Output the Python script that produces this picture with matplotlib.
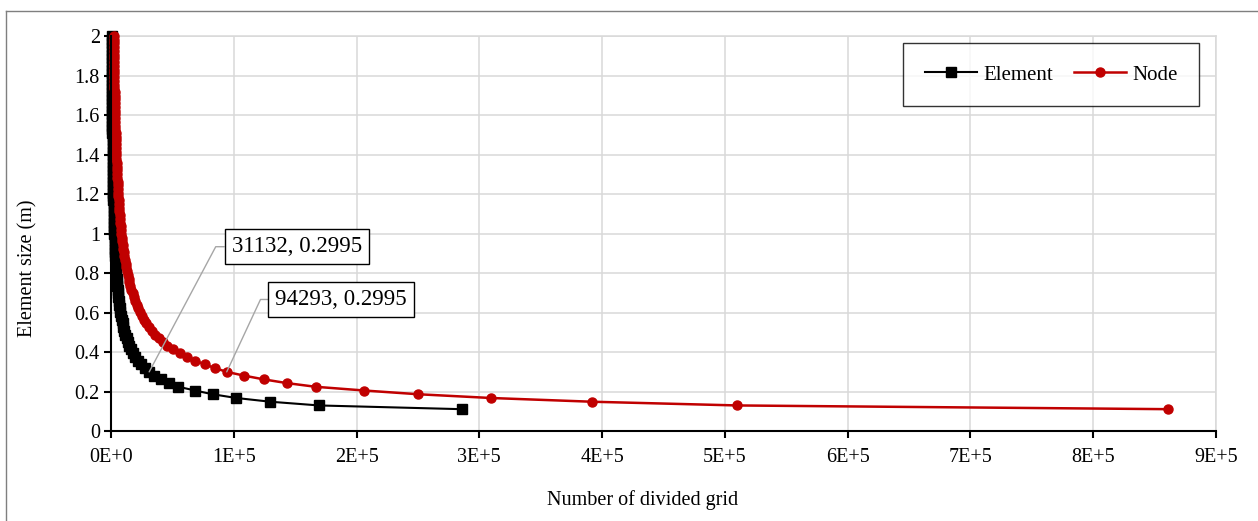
import matplotlib
matplotlib.use("Agg")
import matplotlib.pyplot as plt
from matplotlib.lines import Line2D
from matplotlib.ticker import FuncFormatter, MultipleLocator

plt.rcParams['font.family'] = ['Liberation Serif', 'DejaVu Serif']

# element size (m), same for both series
sizes = [2.0000, 1.9811, 1.9622, 1.9433, 1.9244, 1.9055, 1.8866, 1.8677, 1.8488, 1.8300,
         1.8111, 1.7922, 1.7733, 1.7544, 1.7355, 1.7166, 1.6977, 1.6788, 1.6599, 1.6410,
         1.6221, 1.6032, 1.5843, 1.5654, 1.5465, 1.5277, 1.5088, 1.4899, 1.4710, 1.4521,
         1.4332, 1.4143, 1.3954, 1.3765, 1.3576, 1.3387, 1.3198, 1.3009, 1.2820, 1.2631,
         1.2442, 1.2253, 1.2065, 1.1876, 1.1687, 1.1498, 1.1309, 1.1120, 1.0931, 1.0742,
         1.0553, 1.0364, 1.0175, 0.9986, 0.9797, 0.9608, 0.9419, 0.9230, 0.9041, 0.8853,
         0.8664, 0.8475, 0.8286, 0.8097, 0.7908, 0.7719, 0.7530, 0.7341, 0.7152, 0.6963,
         0.6774, 0.6585, 0.6396, 0.6207, 0.6018, 0.5830, 0.5641, 0.5452, 0.5263, 0.5074,
         0.4885, 0.4696, 0.4507, 0.4318, 0.4129, 0.3940, 0.3751, 0.3562, 0.3373, 0.3184,
         0.2995, 0.2806, 0.2617, 0.2429, 0.2240, 0.2051, 0.1862, 0.1673, 0.1484, 0.1295,
         0.1106]

elements = [700, 713, 727, 741, 756, 771, 787, 803, 819, 836,
            854, 872, 890, 910, 930, 950, 971, 993, 1016, 1040,
            1064, 1089, 1116, 1143, 1171, 1200, 1230, 1261, 1294, 1328,
            1363, 1400, 1438, 1478, 1519, 1562, 1607, 1655, 1704, 1755,
            1809, 1865, 1924, 1985, 2050, 2118, 2189, 2264, 2343, 2427,
            2514, 2607, 2705, 2808, 2917, 3033, 3156, 3287, 3425, 3572,
            3730, 3898, 4078, 4271, 4477, 4700, 4938, 5196, 5474, 5776,
            6102, 6458, 6844, 7267, 7731, 8238, 8799, 9421, 10108, 10874,
            11735, 12698, 13786, 15013, 16422, 18041, 19900, 22065, 24605, 27613,
            31132, 34900, 41000, 47000, 55000, 68500, 82800, 102000, 129700, 169400,
            285600]

nodes = [2135, 2175, 2217, 2260, 2306, 2352, 2400, 2449, 2498, 2550,
         2605, 2660, 2715, 2776, 2837, 2898, 2962, 3029, 3099, 3172,
         3245, 3321, 3404, 3486, 3572, 3660, 3752, 3846, 3947, 4050,
         4157, 4270, 4386, 4508, 4633, 4764, 4901, 5048, 5197, 5353,
         5517, 5688, 5868, 6054, 6253, 6460, 6676, 6905, 7146, 7402,
         7668, 7951, 8250, 8564, 8897, 9251, 9626, 10025, 10446, 10895,
         11377, 11889, 12438, 13027, 13655, 14335, 15061, 15848, 16696, 17617,
         18611, 19697, 20874, 22164, 23580, 25126, 26837, 28734, 30829, 33166,
         35792, 38729, 42047, 45600, 50500, 55900, 62000, 68800, 76300, 84900,
         94293, 108300, 124300, 143000, 166700, 206300, 250300, 309200, 391400, 510000,
         861000]

# the two labelled points
label_idx = 90

grid_col = '#d9d9d9'
red = '#c00000'

fig = plt.figure(figsize=(12.58, 5.21), dpi=100)
ax = fig.add_axes([0.0882, 0.1727, 0.8784, 0.7582])

ax.plot(elements, sizes, color='black', lw=1.5, marker='s', markersize=7,
        label='Element', clip_on=False, zorder=3)
ax.plot(nodes, sizes, color=red, lw=1.8, marker='o', markersize=6.5,
        label='Node', clip_on=False, zorder=4)

ax.set_xlim(0, 900000)
ax.set_ylim(0, 2)
ax.xaxis.set_major_locator(MultipleLocator(100000))
ax.yaxis.set_major_locator(MultipleLocator(0.2))


def xfmt(v, pos):
    if v == 0:
        return '0E+0'
    return '%dE+5' % round(v / 1e5)


def yfmt(v, pos):
    return '%g' % round(v, 1)


ax.xaxis.set_major_formatter(FuncFormatter(xfmt))
ax.yaxis.set_major_formatter(FuncFormatter(yfmt))

ax.grid(True, color=grid_col, lw=1.1)
ax.set_axisbelow(True)
for s in ['top', 'right']:
    ax.spines[s].set_color(grid_col)
    ax.spines[s].set_linewidth(1.1)
for s in ['left', 'bottom']:
    ax.spines[s].set_color('black')
    ax.spines[s].set_linewidth(1.5)
    ax.spines[s].set_zorder(5)

ax.tick_params(axis='both', direction='out', labelsize=14.5, width=1.5, color='black')
ax.tick_params(axis='x', length=5, pad=7)
ax.tick_params(axis='y', length=5, pad=3)

fig.text(28 / 1258, 1 - 268 / 521, 'Element size (m)', rotation=90,
         ha='center', va='center', fontsize=14.5)
fig.text(643 / 1258, 1 - 500 / 521, 'Number of divided grid',
         ha='center', va='center', fontsize=14.5)

leg = ax.legend(loc='upper right', bbox_to_anchor=(0.985, 0.982), ncol=2,
                fontsize=15, frameon=True, fancybox=False, edgecolor='black',
                borderpad=1.05, borderaxespad=0, handlelength=2.5,
                handletextpad=0.3, columnspacing=1.0)
leg.get_frame().set_linewidth(1.0)

box = dict(boxstyle='square,pad=0.3', fc='white', ec='black', lw=1.0)
ax.annotate('%d, %s' % (elements[label_idx], sizes[label_idx]),
            xy=(elements[label_idx], sizes[label_idx]),
            xytext=(0.168, 0.4666), textcoords='axes fraction',
            ha='center', va='center', fontsize=16.5, bbox=box, zorder=6,
            arrowprops=dict(arrowstyle='-', color='#a6a6a6', lw=1.0,
                            relpos=(0, 0.5), shrinkA=0, shrinkB=0,
                            connectionstyle='angle,angleA=0,angleB=62,rad=0'))
ax.annotate('%d, %s' % (nodes[label_idx], sizes[label_idx]),
            xy=(nodes[label_idx], sizes[label_idx]),
            xytext=(0.2081, 0.333), textcoords='axes fraction',
            ha='center', va='center', fontsize=16.5, bbox=box, zorder=6,
            arrowprops=dict(arrowstyle='-', color='#a6a6a6', lw=1.0,
                            relpos=(0, 0.5), shrinkA=0, shrinkB=0,
                            connectionstyle='angle,angleA=0,angleB=65,rad=0'))

# outer chart border (runs off the right and bottom of the picture)
bx, by = 6 / 1258, 1 - 10.5 / 521
fig.add_artist(Line2D([bx, bx], [by, -0.05], color='#7f7f7f', lw=1.0, transform=fig.transFigure))
fig.add_artist(Line2D([bx, 1.05], [by, by], color='#7f7f7f', lw=1.0, transform=fig.transFigure))

fig.savefig('out.png', dpi=100)
